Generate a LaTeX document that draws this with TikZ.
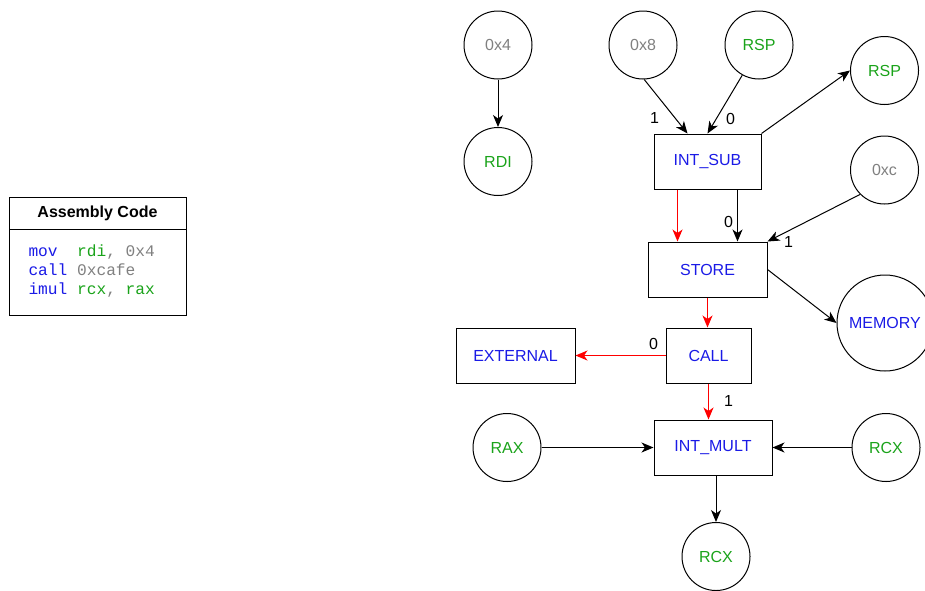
\documentclass[tikz,border=0pt]{standalone}
\usepackage{fontspec}
\setmainfont{Liberation Sans}
\setmonofont{Liberation Mono}
\usetikzlibrary{arrows.meta,calc}
\definecolor{opblue}{RGB}{26,26,230}
\definecolor{valgreen}{RGB}{26,163,26}
\definecolor{constgray}{RGB}{128,128,128}

\begin{document}
\begin{tikzpicture}[x=1pt,y=-1pt,>={Stealth[length=12pt,width=10pt,inset=3.5pt]},line width=1pt,
  font=\fontsize{16}{19}\selectfont,
  op/.style={draw,rectangle,minimum height=55pt,inner sep=0pt,text=opblue},
  val/.style={draw,circle,minimum size=68pt,inner sep=0pt},
  lbl/.style={inner sep=0pt,text=black},
  code/.style={inner sep=0pt,anchor=base west,font=\ttfamily\fontsize{16.2}{19}\selectfont}]
  \useasboundingbox (0,0) rectangle (925,590);
  % assembly listing
  \draw (9,197) rectangle (186,315);
  \draw (9,229) -- (186,229);
  \node[inner sep=0pt,anchor=base,font=\bfseries\fontsize{16}{19}\selectfont] (title) at (97.5,217.5) {Assembly Code};
  \node[code] (l1) at (28,256.5) {\textcolor{opblue}{mov}\ \ \textcolor{valgreen}{rdi}\textcolor{constgray}{, 0x4}};
  \node[code] (l2) at (28,275.5) {\textcolor{opblue}{call}\ \textcolor{constgray}{0xcafe}};
  \node[code] (l3) at (28,294.5) {\textcolor{opblue}{imul}\ \textcolor{valgreen}{rcx}\textcolor{constgray}{, }\textcolor{valgreen}{rax}};
  % operations
  \node[op,minimum width=107pt] (isub) at (707.5,161.5) {INT\_SUB};
  \node[op,minimum width=119pt] (store) at (707.5,269.5) {STORE};
  \node[op,minimum width=85pt] (call) at (708.5,355.5) {CALL};
  \node[op,minimum width=119pt] (ext) at (515.5,355.5) {EXTERNAL};
  \node[op,minimum width=118pt] (imult) at (713,447.5) {INT\_MULT};
  % values
  \node[val,text=constgray] (x4) at (498,45) {0x4};
  \node[val,text=valgreen] (rdi) at (498,161.5) {RDI};
  \node[val,text=constgray] (x8) at (643,45) {0x8};
  \node[val,text=valgreen] (rspi) at (759,45) {RSP};
  \node[val,text=valgreen] (rspo) at (884.5,70.5) {RSP};
  \node[val,text=constgray] (xc) at (884.5,170) {0xc};
  \node[val,minimum size=96pt,text=opblue] (mem) at (885,323) {MEMORY};
  \node[val,text=valgreen] (rax) at (507,447.5) {RAX};
  \node[val,text=valgreen] (rcxi) at (886,447.5) {RCX};
  \node[val,text=valgreen] (rcxo) at (716,556.5) {RCX};
  % data edges
  \draw[->] (x4) -- (rdi);
  \draw[->] (x8.-88) -- ([xshift=34pt]isub.north west) node[lbl,at end,xshift=-33pt,yshift=16pt]{1};
  \draw[->] (rspi.241) -- (isub.north) node[lbl,at end,xshift=23pt,yshift=15pt]{0};
  \draw[->] (isub.north east) -- (rspo.west);
  \draw[->] ([xshift=-24pt]isub.south east) -- ([xshift=-24pt]isub.south east |- store.north) node[lbl,at end,xshift=-9pt,yshift=20pt]{0};
  \draw[->] (xc.225) -- (store.north east) node[lbl,at end,xshift=21pt]{1};
  \draw[->] (store.east) -- (mem.west);
  \draw[->] (rax) -- (imult.west);
  \draw[->] (rcxi) -- (imult.east);
  \draw[->] (imult.south -| rcxo.north) -- (rcxo.north);
  % control flow
  \draw[->,red] ([xshift=24pt]isub.south west) -- ([xshift=24pt]isub.south west |- store.north);
  \draw[->,red] (store.south) -- (store.south |- call.north);
  \draw[->,red] (call.west) -- (ext.east) node[lbl,at start,xshift=-12pt,yshift=12pt]{0};
  \draw[->,red] (call.south) -- (call.south |- imult.north) node[lbl,at start,xshift=20pt,yshift=-17pt]{1};
\end{tikzpicture}
\end{document}
